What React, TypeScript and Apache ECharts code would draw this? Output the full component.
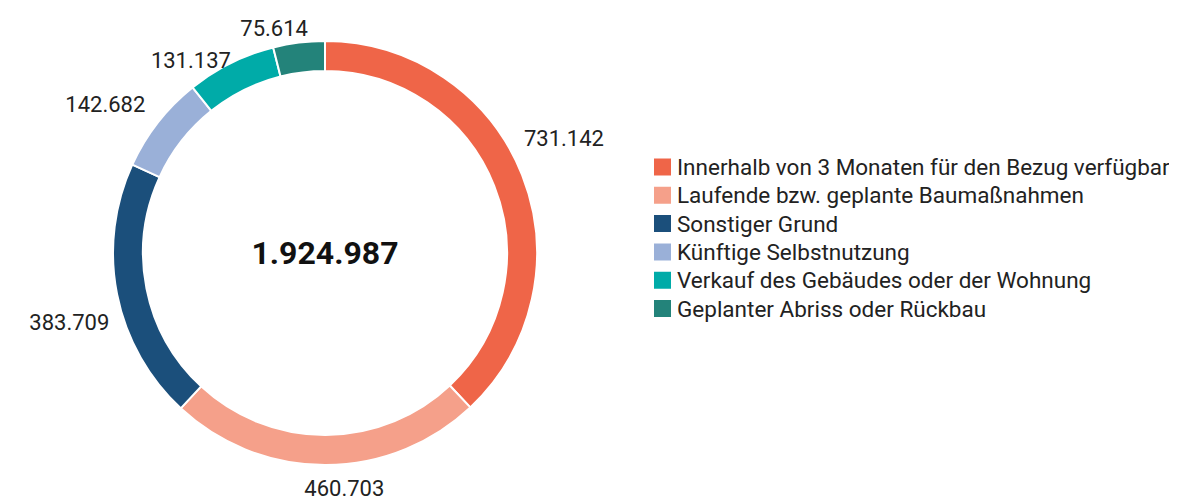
import React, { useEffect, useRef } from "react";
import * as echarts from "echarts";

const categories = [
  "Innerhalb von 3 Monaten für den Bezug verfügbar",
  "Laufende bzw. geplante Baumaßnahmen",
  "Sonstiger Grund",
  "Künftige Selbstnutzung",
  "Verkauf des Gebäudes oder der Wohnung",
  "Geplanter Abriss oder Rückbau",
];
const values = [731142, 460703, 383709, 142682, 131137, 75614];
const colors = ["#EF6548", "#F5A08A", "#1B4F7B", "#9AB0D8", "#00ABA8", "#23837A"];
const totalLabel = "1.924.987";

const fmt = (v: number) => v.toLocaleString("de-DE");

const CX = 317;
const CY = 245;
const R_IN = 182;
const R_OUT = 212;
const LABEL_R = 265;
const LABEL_SHIFT = -4; // degrees
const Y_MIN = 20;
const Y_MAX = 480;
const LABEL_H = 32;

export default function App() {
  const ref = useRef<HTMLDivElement>(null);
  useEffect(() => {
    if (!ref.current) return;
    const chart = echarts.init(ref.current, undefined, { renderer: "svg" });
    const total = values.reduce((a, b) => a + b, 0);
    const mids: number[] = [];
    let acc = 0;
    values.forEach((v) => {
      mids.push(((acc + v / 2) / total) * 360);
      acc += v;
    });
    const pos = mids.map((m) => {
      const a = ((m + LABEL_SHIFT) * Math.PI) / 180;
      const x = CX + LABEL_R * Math.sin(a);
      let y = CY - LABEL_R * Math.cos(a);
      y = Math.max(Y_MIN, Math.min(Y_MAX, y));
      return { x, y };
    });
    for (let i = pos.length - 2; i >= 0; i--) {
      const prev = pos[i + 1];
      const cur = pos[i];
      if (cur.x < CX && prev.x < CX + 80 && Math.abs(cur.y - prev.y) < LABEL_H) {
        cur.y = prev.y + LABEL_H;
      }
    }
    chart.setOption({
      animation: false,
      color: colors,
      textStyle: { fontFamily: "Roboto" },
      legend: {
        orient: "vertical",
        left: 639,
        top: 142.5,
        itemWidth: 19,
        itemHeight: 19,
        itemGap: 5.3,
        icon: "rect",
        textStyle: { fontSize: 22.5, lineHeight: 23, color: "#222", fontFamily: "Roboto" },
        data: categories,
      },
      graphic: [
        {
          type: "text",
          x: CX,
          y: CY,
          style: {
            text: totalLabel,
            fill: "#111",
            font: "bold 32px Roboto",
            textAlign: "center",
            textVerticalAlign: "middle",
          },
        },
      ],
      series: [
        {
          type: "pie",
          center: [CX, CY],
          radius: [R_IN, R_OUT],
          startAngle: 90,
          clockwise: true,
          avoidLabelOverlap: false,
          itemStyle: { borderColor: "#fff", borderWidth: 2 },
          label: {
            show: true,
            position: "outside",
            formatter: (p: any) => fmt(p.value),
            fontSize: 22,
            color: "#222",
            fontFamily: "Roboto",
          },
          labelLine: { show: false, length: 12, length2: 0 },
          labelLayout: (params: any) => {
            const p = pos[params.dataIndex];
            return { x: p.x, y: p.y, align: "center", verticalAlign: "middle" };
          },
          emphasis: { disabled: true },
          data: categories.map((name, i) => ({ name, value: values[i] })),
        },
      ],
    });
    return () => chart.dispose();
  }, []);
  return <div ref={ref} style={{ width: 1161, height: 493 }} />;
}
